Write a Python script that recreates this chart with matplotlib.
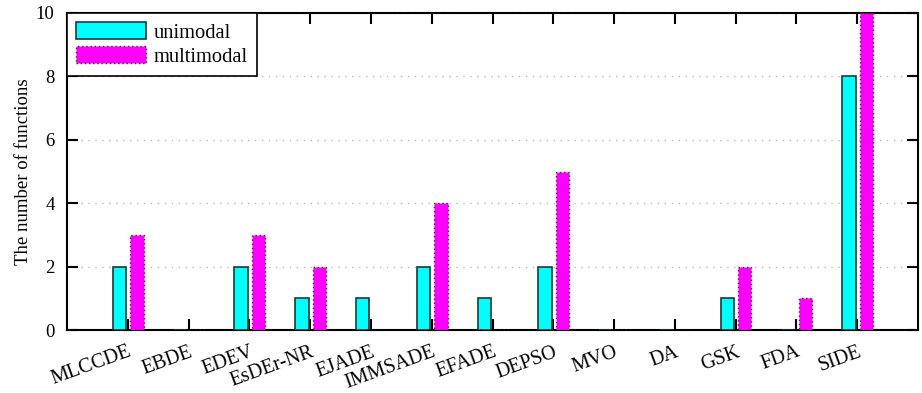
import matplotlib
matplotlib.use("Agg")
import matplotlib.pyplot as plt
import numpy as np

categories = ["MLCCDE", "EBDE", "EDEV", "EsDEr-NR", "EJADE", "IMMSADE", "EFADE",
              "DEPSO", "MVO", "DA", "GSK", "FDA", "SIDE"]
unimodal = [2, 0, 2, 1, 1, 2, 1, 2, 0, 0, 1, 0, 8]
multimodal = [3, 0, 3, 2, 0, 4, 0, 5, 0, 0, 2, 1, 10]
yticks = [0, 2, 4, 6, 8, 10]

plt.rcParams['font.family'] = ['Liberation Serif', 'DejaVu Serif']

fig = plt.figure(figsize=(9.22, 3.93), dpi=100)
ax = fig.add_axes([0.0727, 0.160, 0.9957 - 0.0727, 0.967 - 0.160])

x = np.arange(len(categories))
w = 0.22
ax.bar(x - 0.135, unimodal, width=w, color="#00ffff", edgecolor="#1a3a3a",
       linewidth=1.2, label="unimodal", zorder=3)
ax.bar(x + 0.15, multimodal, width=w, color="#ff00ff", edgecolor="#333333",
       linewidth=1.0, linestyle=(0, (1, 2)), label="multimodal", zorder=3)

ax.set_xlim(-1, len(categories))
ax.set_ylim(0, 10)
ax.set_yticks(yticks)
ax.set_xticks(x)
ax.set_xticklabels(categories, rotation=20, ha='right', rotation_mode='anchor',
                   fontsize=14.5)
ax.tick_params(axis='x', direction='in', length=8, width=1.5, top=True, pad=9)
ax.tick_params(axis='y', direction='in', length=8, width=1.5, right=True,
               labelsize=13.5, pad=9)
ax.yaxis.grid(True, color="#bbbbbb", linestyle=(0, (1, 4)), linewidth=1.0)
ax.set_axisbelow(True)
for s in ax.spines.values():
    s.set_linewidth(1.5)
ax.set_ylabel("The number of functions", fontsize=13.5, labelpad=3)

leg = ax.legend(loc='upper left', fontsize=14.8, frameon=True, fancybox=False,
                borderaxespad=0, handlelength=3.4, handleheight=0.9,
                borderpad=0.45, labelspacing=0.15, handletextpad=0.35)
leg.get_frame().set_edgecolor("black")
leg.get_frame().set_linewidth(1.2)
leg.get_frame().set_alpha(1)

fig.savefig("out.png", dpi=100)
